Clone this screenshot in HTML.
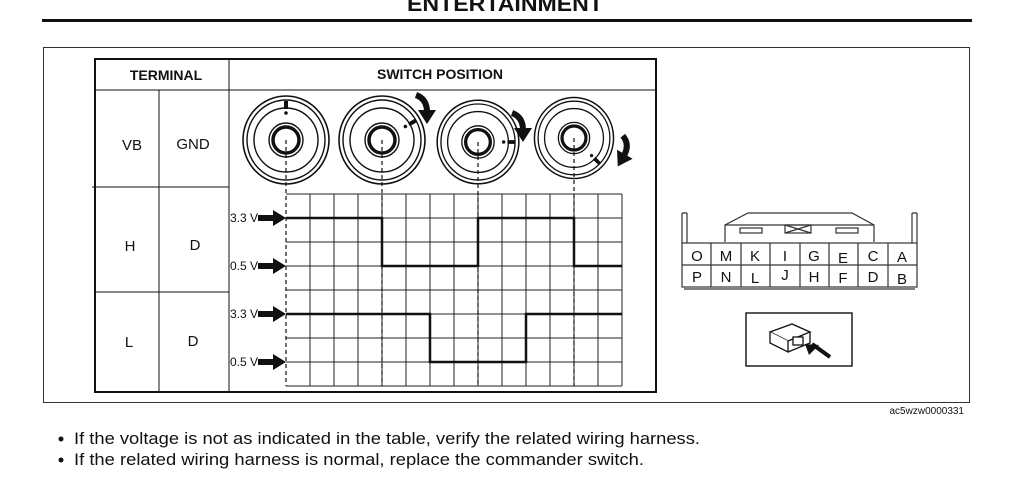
<!DOCTYPE html>
<html><head><meta charset="utf-8"><style>
html,body{margin:0;padding:0;background:#fff;}
svg{display:block;}
text{font-family:"Liberation Sans",Arial,sans-serif;fill:#111;}
</style></head><body>
<svg width="1024" height="486" viewBox="0 0 1024 486" xmlns="http://www.w3.org/2000/svg">
<defs>
<g id="knob">
<ellipse rx="43" ry="44" fill="none" stroke="#111" stroke-width="1.6"/>
<ellipse rx="39" ry="40" fill="none" stroke="#111" stroke-width="1.4"/>
<circle r="32" fill="none" stroke="#111" stroke-width="1.4"/>
<circle r="17" fill="none" stroke="#111" stroke-width="1.4"/>
<circle r="13" fill="none" stroke="#111" stroke-width="3.5"/>
</g>
<g id="ind">
<rect x="-2" y="-39" width="4" height="8" fill="#111"/>
<circle cx="0" cy="-27" r="1.8" fill="#111"/>
</g>
<g id="arr">
<path d="M-2,-13 Q9,-9 9,4" fill="none" stroke="#111" stroke-width="6"/>
<path d="M0,2 L18,2 L9,16 Z" fill="#111"/>
</g>
</defs>
<text x="505" y="11" font-size="21" font-weight="bold" text-anchor="middle" textLength="196" lengthAdjust="spacingAndGlyphs">ENTERTAINMENT</text>
<rect x="42" y="19" width="930" height="3" fill="#111"/>
<rect x="43.5" y="47.5" width="926" height="355" fill="none" stroke="#333" stroke-width="1"/>

<rect x="95" y="59" width="561" height="333" fill="none" stroke="#111" stroke-width="2"/>
<line x1="95" y1="90" x2="656" y2="90" stroke="#111" stroke-width="1"/>
<line x1="159" y1="90" x2="159" y2="392" stroke="#111" stroke-width="1"/>
<line x1="229" y1="59" x2="229" y2="392" stroke="#111" stroke-width="1"/>
<line x1="92" y1="187" x2="229" y2="187" stroke="#111" stroke-width="1"/>
<line x1="95" y1="292" x2="229" y2="292" stroke="#111" stroke-width="1"/>
<text x="166" y="80" font-size="14" font-weight="bold" text-anchor="middle">TERMINAL</text>
<text x="440" y="79" font-size="14" font-weight="bold" text-anchor="middle">SWITCH POSITION</text>
<text x="132" y="150" font-size="15" text-anchor="middle">VB</text>
<text x="193" y="149" font-size="15" text-anchor="middle">GND</text>
<text x="130" y="251" font-size="15" text-anchor="middle">H</text>
<text x="195" y="250" font-size="15" text-anchor="middle">D</text>
<text x="129" y="347" font-size="15" text-anchor="middle">L</text>
<text x="193" y="346" font-size="15" text-anchor="middle">D</text>

<g stroke="#222" stroke-width="1">
<line x1="310" y1="194" x2="310" y2="386"/><line x1="334" y1="194" x2="334" y2="386"/><line x1="358" y1="194" x2="358" y2="386"/><line x1="382" y1="194" x2="382" y2="386"/><line x1="406" y1="194" x2="406" y2="386"/><line x1="430" y1="194" x2="430" y2="386"/><line x1="454" y1="194" x2="454" y2="386"/><line x1="478" y1="194" x2="478" y2="386"/><line x1="502" y1="194" x2="502" y2="386"/><line x1="526" y1="194" x2="526" y2="386"/><line x1="550" y1="194" x2="550" y2="386"/><line x1="574" y1="194" x2="574" y2="386"/><line x1="598" y1="194" x2="598" y2="386"/><line x1="622" y1="194" x2="622" y2="386"/>
<line x1="286" y1="194" x2="622" y2="194"/><line x1="286" y1="218" x2="622" y2="218"/><line x1="286" y1="242" x2="622" y2="242"/><line x1="286" y1="266" x2="622" y2="266"/><line x1="286" y1="290" x2="622" y2="290"/><line x1="286" y1="314" x2="622" y2="314"/><line x1="286" y1="338" x2="622" y2="338"/><line x1="286" y1="362" x2="622" y2="362"/><line x1="286" y1="386" x2="622" y2="386"/>
</g>
<g stroke="#111" stroke-width="1.2" stroke-dasharray="4,3">
<line x1="286" y1="140" x2="286" y2="386"/><line x1="382" y1="140" x2="382" y2="386"/><line x1="478" y1="142" x2="478" y2="386"/><line x1="574" y1="138" x2="574" y2="386"/>
</g>
<polyline points="286,218 382,218 382,266 478,266 478,218 574,218 574,266 622,266" fill="none" stroke="#111" stroke-width="2.5"/>
<polyline points="286,314 430,314 430,362 526,362 526,314 622,314" fill="none" stroke="#111" stroke-width="2.5"/>
<g font-size="12">
<text x="230" y="222">3.3 V</text><text x="230" y="270">0.5 V</text><text x="230" y="318">3.3 V</text><text x="230" y="366">0.5 V</text>
</g>
<g fill="#111">
<path d="M258,215 H273 V210 L286,218 L273,226 V221 H258 Z"/>
<path d="M258,263 H273 V258 L286,266 L273,274 V269 H258 Z"/>
<path d="M258,311 H273 V306 L286,314 L273,322 V317 H258 Z"/>
<path d="M258,359 H273 V354 L286,362 L273,370 V365 H258 Z"/>
</g>

<g transform="translate(286,140)"><use href="#knob"/><use href="#ind"/></g>
<g transform="translate(382,140)"><use href="#knob"/><use href="#ind" transform="rotate(60)"/></g>
<g transform="translate(478,142)"><use href="#knob" transform="scale(0.95)"/><use href="#ind" transform="rotate(90) scale(0.95)"/></g>
<g transform="translate(574,138)"><use href="#knob" transform="scale(0.92)"/><use href="#ind" transform="rotate(135) scale(0.92)"/></g>
<use href="#arr" transform="translate(418,108)"/>
<use href="#arr" transform="translate(514,126)"/>
<use href="#arr" transform="translate(618,148) rotate(30)"/>

<g stroke="#333" stroke-width="1.2" fill="none">
<path d="M682,213 V243 M687,213 V243 M682,213 H687"/>
<path d="M912,213 V243 M917,213 V243 M912,213 H917"/>
<path d="M725,242 V225 L748,213 H852 L874,225 V242"/>
<line x1="725" y1="225" x2="874" y2="225"/>
<rect x="740" y="228" width="22" height="5"/>
<rect x="836" y="228" width="22" height="5"/>
<rect x="785" y="225" width="26" height="8"/>
<path d="M785,225 L811,233 M811,225 L785,233"/>
<rect x="682" y="243" width="235" height="44"/>
<line x1="682" y1="265" x2="917" y2="265"/>
<line x1="711" y1="243" x2="711" y2="287"/><line x1="741" y1="243" x2="741" y2="287"/><line x1="770" y1="243" x2="770" y2="287"/><line x1="800" y1="243" x2="800" y2="287"/><line x1="829" y1="243" x2="829" y2="287"/><line x1="858" y1="243" x2="858" y2="287"/><line x1="888" y1="243" x2="888" y2="287"/>
<line x1="684" y1="289" x2="915" y2="289"/>
</g>
<g font-size="15" text-anchor="middle">
<text x="697" y="261">O</text><text x="726" y="261">M</text><text x="755" y="261">K</text><text x="785" y="261">I</text><text x="814" y="261">G</text><text x="843" y="263">E</text><text x="873" y="261">C</text><text x="902" y="262">A</text>
<text x="697" y="282">P</text><text x="726" y="282">N</text><text x="755" y="283">L</text><text x="785" y="280">J</text><text x="814" y="282">H</text><text x="843" y="283">F</text><text x="873" y="282">D</text><text x="902" y="284">B</text>
</g>
<rect x="746" y="313" width="106" height="53" fill="none" stroke="#111" stroke-width="1.4"/>
<g stroke="#111" stroke-width="1.3" fill="#fff">
<path d="M770,332 L792,324 L810,332 L788,341 Z"/>
<path d="M770,332 V343 L788,352 V341"/>
<path d="M788,352 L810,343 V332"/>
<rect x="793" y="337" width="10" height="8"/>
</g>
<path d="M812,344 L830,357" stroke="#111" stroke-width="4"/>
<path d="M805,344 L819,345 L809,355 Z" fill="#111"/>
<text x="964" y="414" font-size="10" text-anchor="end">ac5wzw0000331</text>

<g font-size="17">
<circle cx="61" cy="439" r="2.5" fill="#111"/>
<text x="74" y="444" textLength="626" lengthAdjust="spacingAndGlyphs">If the voltage is not as indicated in the table, verify the related wiring harness.</text>
<circle cx="61" cy="460" r="2.5" fill="#111"/>
<text x="74" y="465" textLength="570" lengthAdjust="spacingAndGlyphs">If the related wiring harness is normal, replace the commander switch.</text>
</g>
</svg>
</body></html>
